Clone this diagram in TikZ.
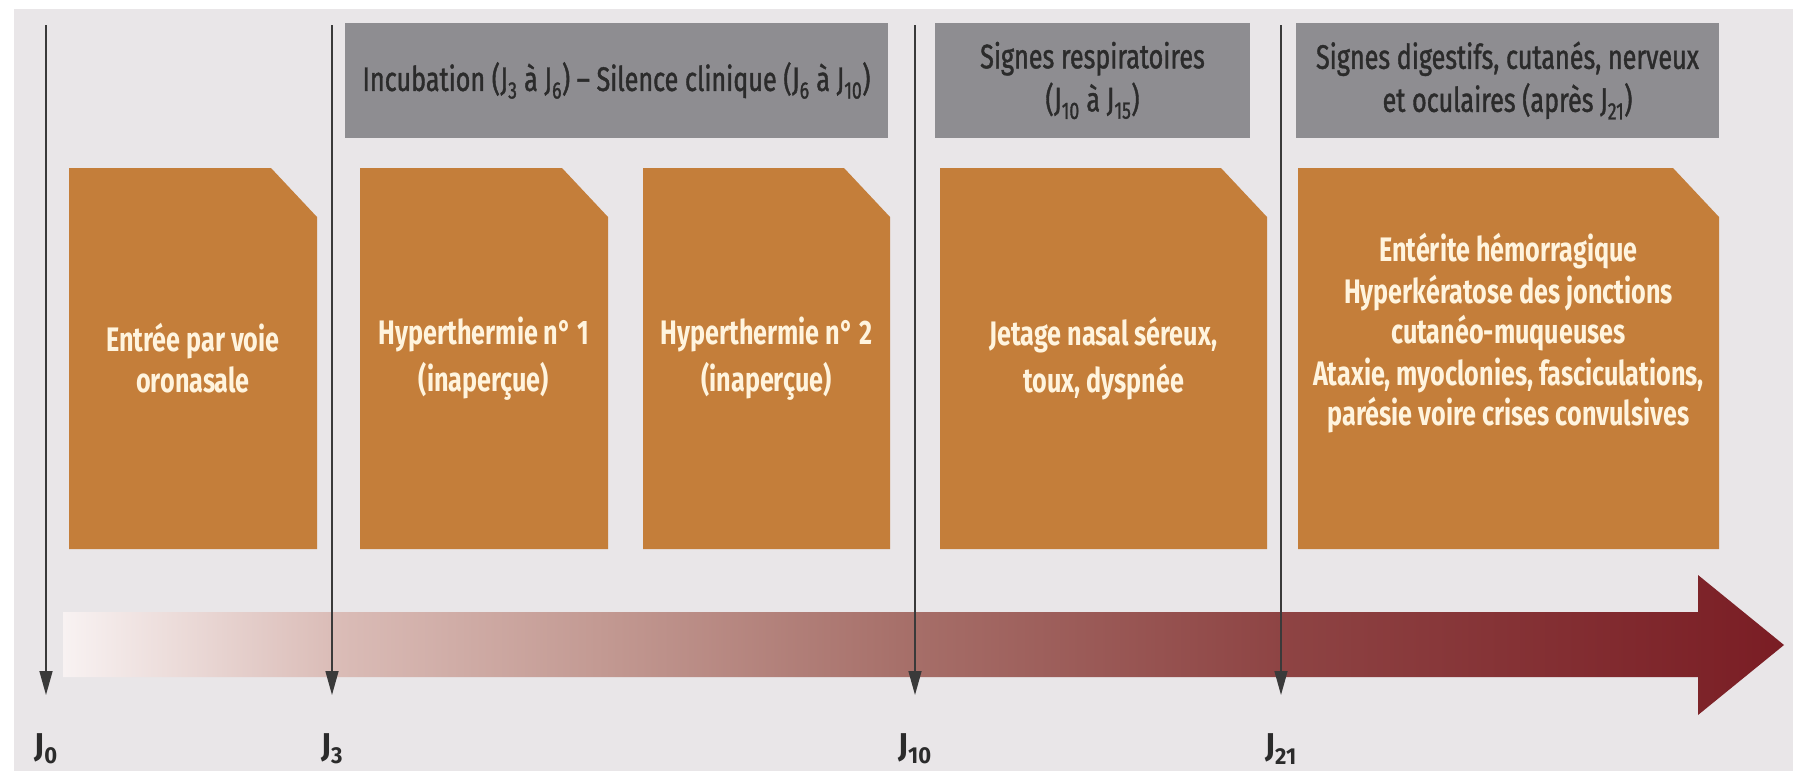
\documentclass[tikz,border=0pt]{standalone}
\usepackage{fontspec}
\setmainfont{Fira Sans}[FakeStretch=0.74]
\newfontfamily\phasefont{Fira Sans}[FakeStretch=0.74, FakeBold=1.2]
\newfontfamily\dayfont{Fira Sans}[FakeStretch=0.95]
\usepackage{tikz}
\usetikzlibrary{positioning,arrows.meta}
\definecolor{page}     {HTML}{E9E6E8}
\definecolor{phase}    {HTML}{8E8D91}
\definecolor{phaseink} {HTML}{2B2B2B}
\definecolor{sign}     {HTML}{C47E3A}
\definecolor{signink}  {HTML}{FFF4DE}
\definecolor{tickink}  {HTML}{3A3A3A}
\definecolor{bar0}     {HTML}{F8F2F2}
\definecolor{bar1}     {HTML}{DBBDB8}
\definecolor{bar2}     {HTML}{C39A93}
\definecolor{bar3}     {HTML}{A7706A}
\definecolor{bar4}     {HTML}{8E4444}
\definecolor{bar5}     {HTML}{7A1D24}
\pgfdeclarehorizontalshading{timebar}{100bp}{color(0bp)=(bar0); color(25bp)=(bar0);
  color(32.75bp)=(bar1); color(40.5bp)=(bar2); color(49.3bp)=(bar3);
  color(60.35bp)=(bar4); color(75bp)=(bar5); color(100bp)=(bar5)}
\tikzset{
  % --- nodes
  phasebox/.style = {fill=phase, text=phaseink, align=center, inner sep=0pt,
                     minimum height=115pt, font=\phasefont\fontsize{34}{43}\selectfont},
  signbox/.style  = {rectangle, text=signink, align=center, inner sep=0pt,
                     minimum height=381pt, font=\bfseries\fontsize{34}{41}\selectfont,
                     path picture={
                       \fill[sign] (path picture bounding box.south west)
                         -- (path picture bounding box.north west)
                         -- ([xshift=-46pt]path picture bounding box.north east)
                         -- ([yshift=-49pt]path picture bounding box.north east)
                         -- (path picture bounding box.south east) -- cycle;}},
  signtxt/.style  = {text=signink, align=center, inner sep=0pt,
                     font=\bfseries\fontsize{34}{40}\selectfont},
  daylbl/.style   = {text=phaseink, inner sep=0pt, font=\dayfont\bfseries\fontsize{33}{33}\selectfont},
  % --- edges
  tick/.style     = {-{Triangle[width=13pt,length=24pt]}, line width=1.5pt, draw=tickink},
}

\begin{document}
\begin{tikzpicture}[x=1pt,y=-1pt]
  \useasboundingbox (0,0) rectangle (1793,771);
  \fill[white] (0,0) rectangle (1793,771);
  \fill[page] (14,9) rectangle (1793,771);

  % time bar
  \shade[shading=timebar] (63,612) -- (1698,612) -- (1698,575) -- (1784,645)
    -- (1698,715) -- (1698,677) -- (63,677) -- cycle;

  % day ticks
  \foreach \n/\x in {0/46, 3/332, 10/915, 21/1281} {
    \coordinate (top\n) at (\x,25);
    \coordinate (tip\n) at (\x,695);
    \node[daylbl] (j\n) at (\x,749) {J\textsubscript{\n}};
    \draw[tick] (top\n) -- (tip\n);
  }

  % phases
  \node[phasebox, minimum width=543pt] (incub) at (616.5,80.5)
    {Incubation (J\textsubscript{3} à J\textsubscript{6}) – Silence clinique (J\textsubscript{6} à J\textsubscript{10})};
  \node[phasebox, minimum width=315pt] (resp) at (1092.5,80.5)
    {Signes respiratoires\\(J\textsubscript{10} à J\textsubscript{15})};
  \node[phasebox, minimum width=423pt] (dig) at (1507.5,80.5)
    {Signes digestifs, cutanés, nerveux\\et oculaires (après J\textsubscript{21})};

  % signs
  \node[signbox, minimum width=248pt] (entree) at (193,358.5)
    {Entrée par voie\\oronasale};
  \node[signbox, minimum width=248pt] (hyper1) at (484,358.5)
    {Hyperthermie n° 1\\[6pt](inaperçue)};
  \node[signbox, minimum width=247pt] (hyper2) at (766.5,358.5)
    {Hyperthermie n° 2\\[6pt](inaperçue)};
  \node[signbox, minimum width=327pt] (jetage) at (1103.5,358.5)
    {Jetage nasal séreux,\\[6pt]toux, dyspnée};
  \node[signbox, minimum width=421pt] (tardif) at (1508.5,358.5) {};
  \node[signtxt] (tardiftxt) at ([yshift=25pt]tardif.center)
    {Entérite hémorragique\\[2pt]Hyperkératose des jonctions\\cutanéo-muqueuses\\[2pt]
     Ataxie, myoclonies, fasciculations,\\parésie voire crises convulsives};
\end{tikzpicture}
\end{document}
